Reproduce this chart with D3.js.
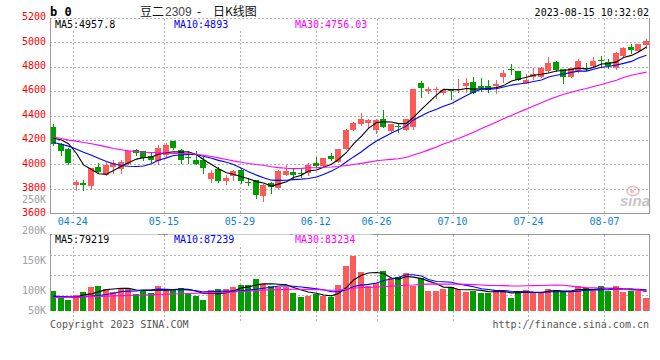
<!DOCTYPE html>
<html><head><meta charset="utf-8">
<script src="https://cdn.jsdelivr.net/npm/d3@7"></script>
<style>
html,body{margin:0;padding:0;background:#fff;}
svg{display:block;}
text{font-family:"DejaVu Sans Mono",monospace;font-size:10px;}
</style></head><body>
<svg id="c" width="660" height="360"></svg>
<script>
// ---------------- data ----------------
const dates = ["04-19","04-20","04-21","04-24","04-25","04-26","04-27","04-28","05-04","05-05",
"05-08","05-09","05-10","05-11","05-12","05-15","05-16","05-17","05-18","05-19",
"05-22","05-23","05-24","05-25","05-26","05-29","05-30","05-31","06-01","06-02",
"06-05","06-06","06-07","06-08","06-09","06-12","06-13","06-14","06-15","06-16",
"06-19","06-20","06-21","06-26","06-27","06-28","06-29","06-30","07-03","07-04",
"07-05","07-06","07-07","07-10","07-11","07-12","07-13","07-14","07-17","07-18",
"07-19","07-20","07-21","07-24","07-25","07-26","07-27","07-28","07-31","08-01",
"08-02","08-03","08-04","08-07","08-08","08-09","08-10","08-11","08-14","08-15"];

const openP = [4308,4166,4125,3835,3849,3824,3978,3912,3980,3961,
4005,4117,4109,4068,4027,4081,4193,4117,4062,4035,
4035,3879,3961,3863,3906,3953,3854,3871,3740,3849,
3811,3917,3939,3934,3934,4013,3988,4068,4021,4130,
4286,4330,4341,4281,4371,4275,4314,4281,4303,4669,
4601,4609,4582,4606,4612,4645,4675,4642,4642,4645,
4713,4781,4765,4669,4713,4718,4768,4841,4779,4718,
4765,4792,4809,4852,4841,4787,4888,4964,4929,4978];
const highP = [4330,4172,4133,3876,3876,3975,4010,4032,4040,4035,
4109,4128,4109,4103,4158,4172,4193,4128,4098,4109,
4062,3953,3980,3912,3953,3972,3885,3871,3844,3854,
3953,3994,3972,3967,4008,4062,4054,4092,4125,4289,
4350,4423,4371,4370,4445,4335,4330,4371,4614,4685,
4636,4636,4614,4609,4696,4705,4713,4705,4691,4691,
4773,4822,4768,4740,4787,4800,4882,4850,4779,4790,
4863,4828,4877,4888,4861,4920,4960,4986,4986,5027];
const lowP = [4158,4079,4005,3794,3794,3797,3926,3912,3926,3926,
4005,4081,4040,4021,4005,4062,4128,4008,4008,4005,
3934,3857,3854,3838,3876,3849,3835,3729,3701,3767,
3803,3912,3890,3898,3912,3978,3988,4035,4021,4130,
4280,4325,4295,4260,4303,4267,4267,4281,4290,4554,
4582,4541,4575,4532,4595,4595,4587,4601,4590,4587,
4677,4737,4688,4664,4696,4713,4754,4768,4664,4713,
4760,4773,4800,4800,4787,4780,4885,4910,4925,4951];
const closeP = [4166,4111,4013,3857,3835,3975,3936,3994,4008,4018,
4109,4090,4049,4040,4133,4161,4136,4035,4057,4005,
3967,3931,3868,3890,3945,3865,3849,3748,3835,3816,
3947,3947,3917,3928,3994,3988,4054,4043,4125,4280,
4341,4370,4363,4363,4308,4335,4303,4371,4614,4628,
4614,4614,4609,4601,4616,4669,4587,4623,4609,4658,
4751,4776,4691,4691,4740,4792,4828,4773,4713,4787,
4847,4781,4847,4848,4809,4915,4956,4937,4984,5014];
const volume = [82000,62000,45000,66000,79000,100000,103000,91000,78000,96000,
96000,70000,86000,75000,103000,91000,85000,96000,70000,63000,
45000,86000,91000,91000,100000,107000,107000,132000,111000,103000,
97000,97000,75000,59000,63000,71000,62000,56000,107000,186000,
226000,160000,103000,116000,164000,134000,138000,157000,103000,134000,
82000,82000,90000,97000,90000,79000,82000,75000,73000,86000,
83000,55000,77000,86000,78000,78000,90000,86000,79000,83000,
103000,93000,82000,103000,83000,103000,79000,83000,83000,55000];

const priceMa5Start  = [4215,4200,4170,4090];
const priceMa10Start = [4180,4165,4150,4125,4100,4075,4050,4025,4005];
const priceMa30Start = [4224,4213,4199,4191,4180,4169,4158,4144,4131,4120,4111,4106,4100,4098,4095,
                        4092,4090,4090,4087,4084,4076,4065,4054,4040,4029,4018,4008,3999,3994];
const volMa5Start  = [61000,58000,56000,56000];
const volMa10Start = [60000,59000,58000,58000,59000,61000,64000,68000,73000];
const volMa30Start = [55000,56000,56000,57000,58000,59000,60000,61000,62000,63000,64000,65000,66000,67000,68000,
                      69000,70000,71000,72000,73000,74000,75000,76000,77000,78000,80000,82000,84000,86000];

const maPeriods = [5, 10, 30];
const priceMaLabels = ["MA5:4957.8", "MA10:4893", "MA30:4756.03"];
const volMaLabels = ["MA5:79219", "MA10:87239", "MA30:83234"];
const priceTicks = [3600,3800,4000,4200,4400,4600,4800,5000,5200];
const volTickLabels = ["250K","200K","150K","100K","50K"];
const volTickValues = [250000,200000,150000,100000,50000];
const dateTicks = ["04-24","05-15","05-29","06-12","06-26","07-10","07-24","08-07"];
const titleParts = ["豆二", "2309", "-", "日K线图"];
const stampText = "2023-08-15 10:32:02";

// ---------------- layout / style ----------------
const L = 50, R = 650;
const RED = "#ff5a5a", GREEN = "#009c00";
const maColors = ["#000000", "#0000ff", "#ff00ff"];
const GRID = "#b4b4b4", BORDER = "#999999";

const svg = d3.select("#c");

const x = d3.scaleBand().domain(dates).range([L, R]).paddingInner(0.2).paddingOuter(0.1).align(0);
const gx = d3.scaleLinear().domain([0, dates.length - 1]).range([L, R]);
const y = d3.scaleLinear().domain([3600, 5200]).range([213.3, 17.9]);
const yv = d3.scaleLinear().domain([0, d3.max(volume)]).range([311, 256]);
const volLabelY = d3.scaleLinear().domain([100000, 250000]).range([294, 203.3]);

const bw = x.bandwidth();
const cx = d => Math.round(x(d)) + 3;
const crisp = v => Math.round(v) + 0.5;

function movingAvg(vals, n, start) {
  return vals.map((v, i) => i >= n - 1 ? d3.mean(vals.slice(i - n + 1, i + 1)) : start[i]);
}
const priceMA = [movingAvg(closeP, 5, priceMa5Start), movingAvg(closeP, 10, priceMa10Start), movingAvg(closeP, 30, priceMa30Start)];
const volMA = [movingAvg(volume, 5, volMa5Start), movingAvg(volume, 10, volMa10Start), movingAvg(volume, 30, volMa30Start)];

const idx = d3.range(dates.length);
const up = i => closeP[i] >= openP[i];

// ---------------- price panel grid ----------------
const gPrice = svg.append("g");
gPrice.selectAll("line.h").data(priceTicks.filter(t => t > 3600)).join("line")
  .attr("x1", L).attr("x2", R - 1)
  .attr("y1", d => crisp(y(d))).attr("y2", d => crisp(y(d)))
  .attr("stroke", GRID).attr("stroke-dasharray", "2,2").attr("shape-rendering", "crispEdges");
gPrice.selectAll("line.v").data(dateTicks).join("line")
  .attr("x1", d => crisp(gx(dates.indexOf(d)))).attr("x2", d => crisp(gx(dates.indexOf(d))))
  .attr("y1", crisp(y(5200))).attr("y2", 216)
  .attr("stroke", GRID).attr("stroke-dasharray", "2,2").attr("shape-rendering", "crispEdges");

// ---------------- volume panel grid ----------------
const volTopY = 234.5;
const gVol = svg.append("g");
gVol.selectAll("line.h").data([255.5, 275.5, 295.5]).join("line")
  .attr("x1", L).attr("x2", R - 1).attr("y1", d => d).attr("y2", d => d)
  .attr("stroke", GRID).attr("stroke-dasharray", "2,2").attr("shape-rendering", "crispEdges");
gVol.selectAll("line.v").data(dateTicks).join("line")
  .attr("x1", d => crisp(gx(dates.indexOf(d)))).attr("x2", d => crisp(gx(dates.indexOf(d))))
  .attr("y1", volTopY).attr("y2", 322)
  .attr("stroke", GRID).attr("stroke-dasharray", "2,2").attr("shape-rendering", "crispEdges");

// ---------------- candles ----------------
const gC = svg.append("g").attr("shape-rendering", "crispEdges");
gC.selectAll("line.wick").data(idx).join("line")
  .attr("x1", i => cx(dates[i]) + 0.5).attr("x2", i => cx(dates[i]) + 0.5)
  .attr("y1", i => Math.round(y(highP[i]))).attr("y2", i => Math.round(y(lowP[i])) + 1)
  .attr("stroke", i => up(i) ? RED : GREEN).attr("stroke-width", 1);
gC.selectAll("rect.body").data(idx).join("rect")
  .attr("x", i => Math.round(x(dates[i])))
  .attr("width", Math.round(bw))
  .attr("y", i => Math.round(y(Math.max(openP[i], closeP[i]))))
  .attr("height", i => Math.max(1, Math.round(y(Math.min(openP[i], closeP[i]))) - Math.round(y(Math.max(openP[i], closeP[i])))))
  .attr("fill", i => up(i) ? RED : GREEN);

// ---------------- volume bars ----------------
const gV = svg.append("g").attr("shape-rendering", "crispEdges");
gV.selectAll("rect").data(idx).join("rect")
  .attr("x", i => Math.round(x(dates[i])))
  .attr("width", Math.round(bw))
  .attr("y", i => Math.round(yv(volume[i])))
  .attr("height", i => 311 - Math.round(yv(volume[i])))
  .attr("fill", i => up(i) ? RED : GREEN);

// ---------------- MA lines ----------------
svg.append("clipPath").attr("id", "cp").append("rect").attr("x", L).attr("y", 19).attr("width", R - L - 1).attr("height", 194);
svg.append("clipPath").attr("id", "cv").append("rect").attr("x", L).attr("y", 235).attr("width", R - L - 1).attr("height", 76);
const lineP = d3.line().x((v, i) => cx(dates[i]) + 0.5).y(v => y(v));
const lineV = d3.line().x((v, i) => cx(dates[i]) + 0.5).y(v => yv(v));
svg.append("g").attr("clip-path", "url(#cp)").selectAll("path").data(priceMA).join("path")
  .attr("d", d => lineP(d)).attr("fill", "none").attr("stroke", (d, k) => maColors[k]).attr("stroke-width", 1.1);
svg.append("g").attr("clip-path", "url(#cv)").selectAll("path").data(volMA).join("path")
  .attr("d", d => lineV(d)).attr("fill", "none").attr("stroke", (d, k) => maColors[k]).attr("stroke-width", 1.1);

// ---------------- borders ----------------
const gB = svg.append("g").attr("stroke", BORDER).attr("shape-rendering", "crispEdges");
gB.append("line").attr("x1", 50.5).attr("x2", 50.5).attr("y1", 18).attr("y2", 214);
gB.append("line").attr("x1", 649.5).attr("x2", 649.5).attr("y1", 18).attr("y2", 214);
gB.append("line").attr("x1", 50).attr("x2", 650).attr("y1", crisp(y(3600))).attr("y2", crisp(y(3600)));
gB.append("line").attr("x1", 50.5).attr("x2", 50.5).attr("y1", volTopY).attr("y2", 311);
gB.append("line").attr("x1", 649.5).attr("x2", 649.5).attr("y1", volTopY).attr("y2", 311);
gB.append("line").attr("x1", 50).attr("x2", 650).attr("y1", volTopY).attr("y2", volTopY);

// ---------------- legends ----------------
const legendX = [55, 174, 295];
const legendBox = [[52, 158], [168, 290], [292, 372]];
function legend(labels, baseY) {
  const g = svg.append("g");
  g.selectAll("rect").data(labels).join("rect")
    .attr("x", (d, k) => legendBox[k][0]).attr("width", (d, k) => legendBox[k][1] - legendBox[k][0])
    .attr("y", baseY - 8).attr("height", 10).attr("fill", "#fff");
  g.selectAll("text").data(labels).join("text")
    .attr("x", (d, k) => legendX[k]).attr("y", baseY)
    .attr("fill", (d, k) => maColors[k]).text(d => d);
}
legend(priceMaLabels, 27.5);
legend(volMaLabels, 242.5);

// ---------------- axis labels ----------------
svg.append("g").selectAll("text").data(priceTicks).join("text")
  .attr("x", 46).attr("y", d => y(d) + 2.2).attr("text-anchor", "end").attr("fill", "#ff0000").text(d => d);
svg.append("g").selectAll("text").data(volTickValues).join("text")
  .attr("x", 46).attr("y", d => Math.min(volLabelY(d), 314.3)).attr("text-anchor", "end").attr("fill", "#a0a0a0")
  .text((d, k) => volTickLabels[k]);
svg.append("g").selectAll("text").data(dateTicks).join("text")
  .attr("x", d => gx(dates.indexOf(d))).attr("y", 224.5).attr("text-anchor", "middle").attr("fill", "#0a80e0").text(d => d);

// ---------------- header / footer ----------------
svg.append("text").attr("x", 50).attr("y", 15.5).attr("font-weight", "bold").style("font-size", "12px").attr("fill", "#000").text("b 0");
const titleX = [140, 165, 197, 213];
const titleFont = ["'Noto Sans CJK SC', sans-serif", "'Liberation Sans', sans-serif", "'Liberation Sans', sans-serif", "'Noto Sans CJK SC', sans-serif"];
svg.append("g").selectAll("text").data(titleParts).join("text")
  .attr("x", (d, k) => titleX[k]).attr("y", 15.5)
  .style("font-family", (d, k) => titleFont[k]).style("font-size", "12px")
  .attr("fill", (d, k) => k === 1 ? "#444" : "#111").text(d => d);
svg.append("text").attr("x", 649).attr("y", 15.5).attr("text-anchor", "end").attr("fill", "#000").text(stampText);
svg.append("text").attr("x", 50).attr("y", 327.5).attr("fill", "#555").text("Copyright 2023 SINA.COM");
svg.append("text").attr("x", 649).attr("y", 327.5).attr("text-anchor", "end").attr("fill", "#555").text("http://finance.sina.com.cn");

// sina watermark
const wm = svg.append("g").attr("opacity", 0.55);
wm.append("ellipse").attr("cx", 633).attr("cy", 191).attr("rx", 6).attr("ry", 4.5).attr("fill", "none").attr("stroke", "#f08080").attr("stroke-width", 1.5);
wm.append("circle").attr("cx", 632).attr("cy", 191.5).attr("r", 1.8).attr("fill", "#f08080");
wm.append("text").attr("x", 620).attr("y", 206).style("font-family", "'Liberation Sans', sans-serif").style("font-size", "15px").attr("font-weight", "bold").attr("font-style", "italic").attr("fill", "#999").text("sina");
</script>
</body></html>
